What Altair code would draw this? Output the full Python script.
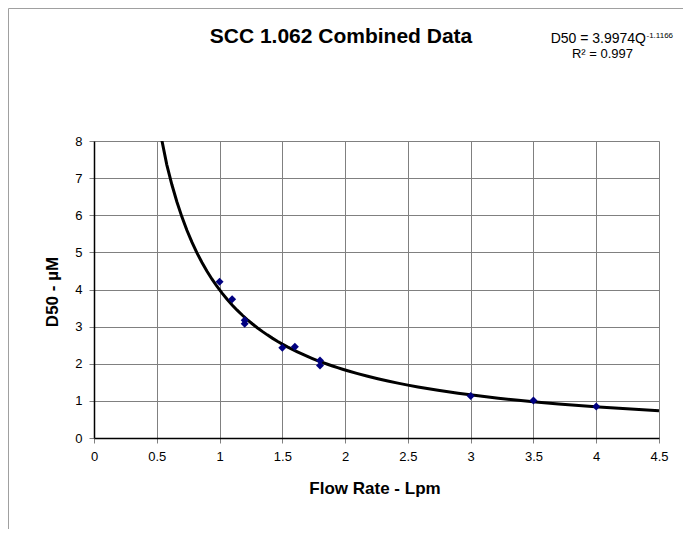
import altair as alt
import pandas as pd

# ---- data ----
flow_rate = [1.0, 1.1, 1.2, 1.2, 1.5, 1.6, 1.8, 1.8, 3.0, 3.5, 4.0]
d50_values = [4.21, 3.74, 3.17, 3.08, 2.43, 2.46, 2.09, 1.95, 1.13, 1.01, 0.85]

x_ticks = [0, 0.5, 1, 1.5, 2, 2.5, 3, 3.5, 4, 4.5]
y_ticks = [0, 1, 2, 3, 4, 5, 6, 7, 8]

title_text = ["SCC 1.062 Combined Data"]
eq_main = ["D50 = 3.9974Q"]
eq_exp = ["-1.1166"]
r2_text = ["R\u00b2 = 0.997"]
x_title = ["Flow Rate - Lpm"]
y_title = ["D50 - \u00b5M"]

FONT = "Liberation Sans"
W, H = 565, 297

df = pd.DataFrame({"x": flow_rate, "y": d50_values})

xscale = alt.Scale(domain=[0, 4.5], nice=False, zero=False)
yscale = alt.Scale(domain=[0, 8], nice=False, zero=False)

common_axis = dict(
    labelExpr="'' + datum.value", title=None,
    grid=True, gridColor="#808080", gridWidth=1, gridOpacity=1,
    domainColor="#000000", domainWidth=1.5,
    tickColor="#808080", tickSize=5, tickWidth=1,
    labelFont=FONT, labelFontSize=13, labelColor="#000000",
    labelOverlap=False, labelFlush=False, labelBound=False,
)
xaxis = alt.Axis(values=x_ticks, tickCount=10, labelPadding=7, **common_axis)
yaxis = alt.Axis(values=y_ticks, tickCount=9, labelPadding=7, **common_axis)

base = alt.Chart(df)

points = base.mark_point(shape="diamond", filled=True, color="#000080",
                         size=64, opacity=1).encode(
    x=alt.X("x:Q", scale=xscale, axis=xaxis),
    y=alt.Y("y:Q", scale=yscale, axis=yaxis),
)

trend = base.transform_regression(
    "x", "y", method="pow", extent=[0.5, 4.5]
).mark_line(color="#000000", strokeWidth=3, clip=True).encode(
    x=alt.X("x:Q", scale=xscale, axis=xaxis),
    y=alt.Y("y:Q", scale=yscale, axis=yaxis),
)


def label(texts, x, y, size, bold=False, align="center", baseline="alphabetic",
          angle=0):
    kw = dict(font=FONT, fontSize=size, color="#000000", align=align,
              baseline=baseline, fontWeight="bold" if bold else "normal")
    if angle:
        kw["angle"] = angle
    return alt.Chart(pd.DataFrame({"t": texts})).mark_text(**kw).encode(
        x=alt.value(x), y=alt.value(y), text="t:N")


frame_df = pd.DataFrame({"k": [0]})
frame_left = alt.Chart(frame_df).mark_rule(color="#a0a0a0", strokeWidth=1,
                                           clip=False).encode(
    x=alt.value(-85.5), y=alt.value(-132.5), y2=alt.value(400))
frame_top = alt.Chart(frame_df).mark_rule(color="#a0a0a0", strokeWidth=1,
                                          clip=False).encode(
    x=alt.value(-85.5), x2=alt.value(600), y=alt.value(-132.5))

layers = [
    frame_left,
    frame_top,
    trend,
    points,
    label(title_text, 247, -98.3, 21, bold=True),
    label(eq_main, 552, -98.3, 14, align="right"),
    label(eq_exp, 552.5, -103, 8, align="left"),
    label(r2_text, 508.5, -82.7, 13),
    label(x_title, 281, 353.3, 17, bold=True),
    label(y_title, -41.3, 151, 17, bold=True, baseline="middle", angle=270),
]

chart = alt.layer(*layers).properties(
    width=W, height=H,
    autosize=alt.AutoSizeParams(type="none"),
    padding={"left": 86, "top": 133, "right": 24, "bottom": 91},
).configure_view(stroke=None).configure(background="#ffffff")

chart.save("out.html", embed_options={"renderer": "svg", "actions": False})
